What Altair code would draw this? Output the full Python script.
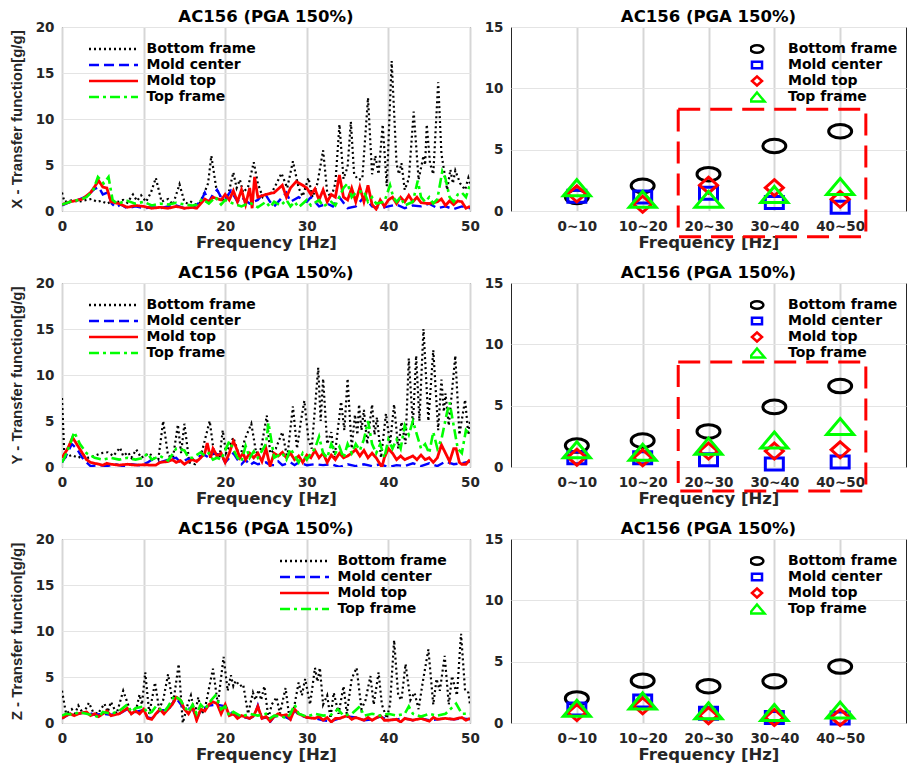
import json
import altair as alt
import pandas as pd

SERIES = ["Bottom frame", "Mold center", "Mold top", "Top frame"]
COLORS = ["#000000", "#0000ff", "#ff0000", "#00ff00"]
DASHES = [[2, 3], [10, 5], [1, 0], [10, 4, 3, 4]]
LINE_WIDTHS = [2.2, 2.4, 2.8, 2.6]
CATEGORIES = ["0~10", "10~20", "20~30", "30~40", "40~50"]
TITLE = "AC156 (PGA 150%)"
YTITLES = {"X": "X - Transfer function[g/g]", "Y": "Y - Transfer function[g/g]", "Z": "Z - Transfer function[g/g]"}
# marker outlines (ellipse, square, diamond, triangle) as drawn in the reference
SHAPES = [
    "M-1.15,0A1.15,0.68 0 1,0 1.15,0A1.15,0.68 0 1,0 -1.15,0Z",
    "M-0.9,-0.6H0.9V0.6H-0.9Z",
    "M0,-0.8L0.9,0L0,0.8L-0.9,0Z",
    "M0,-0.8L1.35,0.8L-1.35,0.8Z",
]

# ---------------- transfer-function spectra (frequency Hz, value g/g) ----------------
X_BOTTOM = [(0,2.0),(0.3,1.0),(1.2,1.15),(2.0,1.0),(3.0,1.2),(3.6,1.3),(4.3,1.0),(4.8,1.1),(5.5,0.8),(6.2,1.1),(6.9,1.0),(7.5,1.2),(8.0,0.9),(8.7,1.8),(9.2,1.1),(9.7,1.7),(10.3,1.0),(10.9,2.0),(11.5,3.6),(12.2,1.0),(12.6,1.2),(13.0,1.3),(13.6,0.7),(14.4,2.9),(15.0,1.0),(15.4,0.8),(15.8,1.0),(16.3,0.7),(16.9,0.9),(17.5,2.1),(17.9,3.0),(18.3,6.0),(18.9,2.5),(19.4,1.6),(19.9,1.0),(20.3,1.5),(21.0,4.2),(21.4,2.5),(21.8,3.4),(22.2,2.0),(22.8,2.6),(23.5,5.3),(24.0,3.0),(24.6,1.5),(25.0,1.8),(25.7,2.0),(26.3,3.0),(26.9,4.1),(27.6,2.5),(28.3,5.4),(29.0,2.5),(29.5,1.6),(30.2,3.6),(30.7,1.5),(31.3,3.0),(32.0,6.6),(32.5,2.0),(33.0,1.5),(33.5,3.0),(34.0,9.4),(34.5,3.5),(35.0,4.8),(35.4,9.7),(35.8,4.0),(36.3,3.4),(36.8,3.5),(37.5,12.3),(38.0,4.0),(38.4,6.0),(38.8,4.0),(39.3,9.4),(39.8,2.7),(40.4,16.3),(41.0,5.1),(41.3,4.0),(41.6,5.2),(42.0,2.3),(42.5,3.5),(43.1,10.8),(43.7,3.4),(44.3,6.0),(44.5,5.0),(44.7,9.4),(45.1,5.2),(45.5,4.0),(46.1,14.0),(46.5,6.2),(47.2,2.3),(47.6,4.5),(47.9,3.0),(48.2,4.4),(48.8,3.0),(49.4,2.3),(49.8,3.6),(50.0,3.0)]
X_CENTER = [(0,0.6),(1,1.0),(2,1.2),(3,1.6),(4,2.4),(4.5,2.6),(5,1.8),(5.6,2.0),(6.1,0.8),(6.6,0.4),(7.2,0.7),(8,0.3),(9,0.5),(10,0.3),(11,0.4),(12,0.3),(13,0.5),(14,0.6),(15,0.3),(16,0.4),(17,1.0),(17.5,2.0),(18,1.0),(18.5,1.8),(19,2.3),(19.5,1.5),(20,1.3),(20.7,2.2),(21.5,1.0),(22,1.5),(23,0.8),(24,1.2),(24.8,2.0),(25.5,1.0),(26,0.5),(27,1.5),(27.5,2.0),(28,1.0),(29,1.5),(30,1.0),(30.5,1.5),(31.5,0.5),(32.5,0.8),(33.2,0.5),(34,1.5),(35,0.3),(36,0.5),(37,1.5),(38,0.5),(39,0.3),(40,0.5),(41,0.7),(42,0.3),(43,0.6),(44,0.5),(45,0.8),(46,0.3),(47,0.5),(48,0.2),(49,0.5),(50,0.3)]
X_TOP = [(0,0.7),(1,1.0),(2.5,1.3),(3.5,2.0),(4.5,3.3),(5,2.6),(5.5,2.5),(6,1.0),(7,0.8),(8,0.4),(9,0.6),(10,0.5),(11,0.3),(12,0.4),(13,0.3),(14,0.5),(15,0.3),(16,0.4),(16.5,0.3),(17,0.8),(17.5,1.3),(18,1.0),(18.5,1.5),(19.5,1.2),(20,1.8),(20.5,1.2),(21,2.2),(21.5,1.0),(22,2.3),(22.5,0.7),(23,2.5),(23.3,0.3),(23.6,3.7),(24,1.5),(25,1.8),(26,2.0),(27,2.8),(27.5,1.5),(28,2.5),(28.7,3.2),(29.5,2.8),(30,2.5),(30.5,1.8),(31,2.4),(31.5,1.2),(32,2.3),(32.5,1.0),(33,1.8),(33.5,1.5),(34,3.9),(34.5,1.5),(35,1.2),(35.5,2.5),(36,1.0),(36.5,2.6),(37,1.0),(37.5,2.8),(38,0.7),(38.5,0.2),(39,1.2),(39.5,0.5),(40,1.2),(40.5,1.5),(41,0.8),(41.5,1.5),(42,1.0),(42.5,1.7),(43,1.0),(43.5,1.5),(44,0.9),(45,0.8),(46,1.0),(46.5,1.3),(47,0.6),(47.5,1.1),(48,0.7),(48.5,1.1),(49,1.0),(49.5,0.3),(50,0.5)]
X_FRAME = [(0,0.7),(1,1.0),(2,1.2),(3,1.5),(3.8,2.2),(4.4,3.7),(5.1,3.0),(5.7,3.7),(6.2,1.2),(6.8,0.8),(7.5,1.0),(8,1.1),(9,0.8),(10,1.0),(11,0.6),(12,0.8),(13,0.7),(14,0.9),(15,0.7),(16,0.6),(16.5,0.7),(17.2,1.3),(18,0.8),(18.8,1.5),(19.5,0.7),(20,1.2),(21,0.8),(22,0.5),(23,0.9),(24,0.4),(25,1.0),(25.5,0.4),(26,1.0),(26.8,0.6),(27.5,1.2),(28,0.5),(28.5,1.0),(29,0.4),(30,1.2),(30.5,0.6),(31.5,1.2),(32,0.5),(33,1.0),(33.5,0.6),(34.5,2.5),(35,3.0),(35.5,1.5),(36,2.0),(37,2.2),(37.5,1.0),(38,1.5),(38.5,0.8),(39.5,1.0),(40.2,2.8),(40.6,1.5),(41,1.0),(41.5,1.5),(42,0.6),(43,1.0),(43.6,3.3),(44,1.5),(44.5,1.0),(45,1.5),(45.5,0.8),(46,1.3),(46.6,4.3),(47,3.5),(47.5,1.5),(48,1.0),(48.5,1.8),(49,2.0),(49.5,1.5),(50,2.9)]

Y_BOTTOM = [(0,7.5),(0.3,1.0),(1.2,1.3),(2.0,1.0),(2.6,1.3),(3.2,1.0),(4.0,1.2),(4.8,1.5),(5.6,1.6),(6.3,1.2),(7.1,2.1),(7.5,1.2),(8.1,1.6),(8.5,1.0),(9.1,1.9),(9.7,1.0),(10.7,1.5),(11.2,1.0),(11.8,0.8),(12.4,5.0),(13.0,1.2),(13.6,1.0),(14.2,4.6),(14.6,1.5),(15.0,4.7),(15.6,0.5),(16.3,0.3),(17.1,1.5),(18.1,5.0),(18.7,1.0),(19.3,1.0),(19.7,4.0),(20.1,1.5),(21.0,3.2),(21.8,1.0),(22.4,3.0),(23.2,4.7),(23.8,1.5),(24.4,2.0),(25.1,5.6),(25.5,1.5),(26.2,2.0),(27.0,3.8),(27.6,1.0),(28.3,6.6),(28.8,2.0),(29.3,5.1),(29.7,7.2),(30.2,3.0),(30.6,2.0),(31.4,10.8),(31.7,5.0),(32.0,9.6),(32.5,2.5),(33.0,3.8),(33.4,1.0),(34.2,7.1),(34.6,4.0),(35.0,9.6),(35.5,2.0),(35.9,5.7),(36.2,3.5),(36.4,6.8),(36.7,4.0),(37.0,6.2),(37.4,2.5),(38.0,6.8),(38.3,3.5),(38.6,5.4),(39.1,1.0),(39.7,5.8),(40.2,2.5),(40.7,6.8),(41.2,2.0),(41.6,4.9),(42.1,2.5),(42.5,11.8),(43.0,4.5),(43.4,12.1),(43.8,5.0),(44.3,15.0),(44.9,5.0),(45.5,12.7),(46.1,4.0),(46.5,9.5),(46.8,6.0),(47.0,8.0),(47.4,4.5),(48.2,12.1),(48.7,3.5),(49.4,7.3),(49.8,3.5),(50.0,5.0)]
Y_CENTER = [(0,0.5),(0.5,1.2),(1.2,2.5),(1.8,2.0),(2.5,1.0),(3,0.5),(3.5,0.1),(4.5,0.2),(5.5,0.1),(6.5,0.3),(7.5,0.1),(8.5,0.3),(9.5,0.2),(10,0.3),(10.5,0.5),(11,0.8),(12,0.5),(13,0.8),(14,1.0),(14.5,0.5),(15.5,0.9),(16,0.8),(17,1.2),(17.5,1.3),(18,1.0),(18.5,1.5),(19.5,1.3),(20,0.5),(21,1.5),(21.5,0.8),(22,0.3),(22.5,0.8),(23,0.2),(23.5,0.5),(24,0.3),(25,0.5),(25.5,0.2),(26,0.2),(26.5,0.6),(27,0.2),(28,0.5),(28.5,0.2),(29,0.5),(30,0.2),(31,0.3),(32,0.2),(33,0.3),(34,0.0),(35,0.3),(36,0.1),(37,0.3),(38,0.1),(39,0.3),(40,0.0),(41,0.2),(42,0.1),(43,0.4),(44,0.1),(45,0.4),(46,0.1),(47,0.6),(48,0.3),(49,0.4),(50,0.6)]
Y_TOP = [(0,1.0),(0.7,2.0),(1.3,3.2),(1.8,2.5),(2.5,1.5),(3,0.8),(3.5,0.5),(4.5,0.3),(5,0.2),(5.5,0.4),(6,0.3),(7,0.2),(8,0.3),(9,0.2),(10,0.25),(11,0.2),(11.5,0.2),(12,0.5),(13,0.6),(13.5,0.8),(14,0.5),(14.5,0.7),(15,0.3),(15.5,0.6),(16,0.8),(16.5,0.6),(17,1.0),(17.5,1.5),(17.8,2.6),(18.2,1.0),(18.5,2.0),(19,1.2),(19.5,1.5),(20,0.5),(20.5,1.5),(21,2.8),(21.3,2.2),(21.8,1.0),(22.2,1.5),(22.5,0.8),(23,1.5),(23.5,1.0),(24,1.5),(24.5,0.6),(25,2.0),(25.5,0.1),(26,1.5),(26.5,1.2),(27,1.6),(27.5,1.0),(28,1.5),(28.5,0.8),(29,1.2),(29.5,0.5),(30,1.3),(30.5,1.0),(31,1.8),(31.5,1.0),(32,1.5),(32.5,0.5),(33,1.3),(33.5,0.8),(34,1.5),(34.5,1.0),(35,1.2),(35.5,1.5),(36,1.9),(36.5,1.2),(37,1.8),(37.5,1.0),(38,1.5),(38.5,1.0),(39.2,0.0),(39.5,1.0),(40,2.0),(40.5,1.5),(41,0.8),(41.5,1.2),(42,0.8),(42.5,1.0),(43,1.2),(43.5,0.8),(44,1.3),(44.5,0.8),(45,1.0),(45.5,0.5),(46,1.0),(46.5,2.4),(47,1.5),(47.5,0.6),(48,2.0),(48.3,2.0),(48.7,0.5),(49,0.3),(49.5,0.3),(50,0.8)]
Y_FRAME = [(0,0.5),(0.3,1.0),(1.0,2.5),(1.5,3.8),(2.2,2.5),(3,1.5),(4,1.0),(5,0.8),(6,1.0),(7,0.8),(8,1.0),(9,0.8),(10,1.0),(10.5,1.5),(11,0.8),(12,1.2),(13,0.7),(14,2.0),(15,1.8),(15.5,1.0),(16,1.0),(17,1.6),(17.5,1.2),(18,1.5),(18.5,0.8),(19,1.0),(19.5,0.8),(20.5,2.8),(21.5,1.0),(22,0.6),(22.5,2.3),(23,1.0),(23.5,1.7),(24,1.0),(25,2.5),(25.3,4.8),(26,1.0),(27,1.5),(27.5,0.8),(28,2.0),(29,0.5),(29.5,1.5),(30,0.8),(30.5,1.5),(31,2.0),(31.5,3.3),(32,1.5),(32.5,1.0),(33,2.5),(33.5,1.5),(34,2.2),(34.5,1.0),(35,2.5),(35.5,1.5),(36,2.5),(36.5,1.8),(37,3.0),(37.5,5.0),(38,2.5),(38.5,1.5),(39,2.5),(39.5,1.0),(40,3.0),(40.5,2.0),(41,3.0),(41.5,2.0),(42,4.5),(42.5,3.5),(43,5.0),(43.5,3.5),(44,2.0),(44.5,2.5),(45,1.5),(45.5,3.8),(46,2.0),(46.5,3.0),(47.2,6.0),(47.5,7.0),(48,4.5),(48.5,2.0),(49,1.5),(49.5,4.0),(50,3.5)]

Z_BOTTOM = [(0,3.5),(0.5,1.0),(1.2,1.5),(1.6,1.0),(2.0,1.9),(2.6,1.0),(3.3,2.2),(3.8,1.2),(4.4,1.0),(5.2,2.1),(5.6,1.2),(6.0,2.3),(6.7,1.0),(7.5,3.5),(8.1,2.0),(8.5,1.0),(9.1,1.5),(9.5,3.1),(9.8,2.0),(10.2,5.5),(10.7,1.0),(11.4,4.4),(11.9,1.5),(12.4,2.5),(13.0,5.3),(13.6,2.0),(14.3,6.4),(14.8,0.0),(15.4,2.0),(15.8,3.0),(16.3,1.0),(16.7,2.8),(17.1,1.0),(17.5,1.5),(18.5,5.9),(19.1,2.0),(19.8,7.2),(20.3,3.5),(20.7,5.2),(21.0,4.0),(21.3,4.6),(21.8,4.0),(22.2,4.2),(22.8,1.0),(23.4,3.3),(23.7,2.5),(24.1,3.6),(24.4,2.5),(24.8,4.0),(25.3,0.5),(25.7,2.0),(26.3,2.8),(26.7,1.0),(27.4,3.8),(27.8,1.0),(28.4,1.5),(29.0,4.4),(29.4,3.0),(29.8,4.8),(30.4,2.0),(31.0,6.0),(31.3,4.5),(31.6,6.0),(32.0,2.0),(32.5,3.0),(32.9,0.5),(33.3,3.3),(33.9,1.0),(34.5,4.0),(34.9,1.0),(35.5,4.8),(36.1,6.0),(36.7,1.5),(37.2,2.5),(37.8,5.1),(38.2,2.0),(38.8,5.5),(39.2,2.0),(39.8,0.5),(40.2,2.0),(40.7,9.0),(41.2,3.0),(41.6,2.5),(42.1,6.4),(42.7,2.5),(43.2,3.3),(43.7,1.5),(44.2,4.4),(44.9,8.0),(45.5,2.0),(45.9,4.8),(46.3,3.5),(46.9,7.3),(47.4,2.0),(47.8,5.1),(48.4,3.0),(48.9,9.7),(49.4,3.5),(49.8,3.3),(50.0,2.0)]
Z_CENTER = [(0,0.5),(1,1.0),(2,1.0),(3,1.2),(4,0.9),(5,1.0),(6,0.9),(7,1.0),(8,1.5),(9,1.2),(10,1.4),(10.5,0.6),(11,0.5),(12,1.4),(13,1.4),(14,2.7),(15,1.5),(16,1.6),(16.5,0.4),(17,1.4),(18,1.9),(19,2.0),(20,1.8),(21,0.9),(22,0.7),(23,0.5),(23.6,0.8),(24,1.9),(24.5,0.5),(25,0.6),(25.5,0.1),(26,0.7),(27,0.8),(28,0.4),(28.5,1.4),(29,0.9),(30,0.6),(31,0.5),(32,0.3),(33,0.2),(34,0.5),(35,0.7),(36,0.6),(37,0.3),(38,0.4),(39,0.7),(40,0.3),(41,0.4),(42,0.5),(43,0.3),(44,0.5),(45,0.3),(46,0.4),(47,0.5),(48,0.4),(49,0.5),(50,0.4)]
Z_TOP = [(0,0.5),(0.5,0.8),(1,1.0),(1.5,0.8),(2,1.0),(3,1.2),(3.5,0.8),(4,1.0),(4.5,0.7),(5,1.0),(5.5,1.3),(6,0.8),(7,1.0),(8,1.6),(8.5,1.0),(9,1.3),(9.5,1.0),(10,1.5),(10.5,0.5),(11,0.4),(11.5,1.0),(12,1.5),(12.5,1.0),(13,1.5),(13.5,2.0),(14,2.8),(14.5,2.5),(15,1.5),(15.5,1.0),(16,1.8),(16.5,0.3),(17,1.5),(17.5,1.3),(18,2.0),(18.5,2.3),(19,2.1),(19.5,1.0),(20,2.0),(20.5,0.8),(21,1.0),(21.5,0.5),(22,0.8),(23,0.5),(23.5,0.8),(24,1.8),(24.5,0.5),(25,0.7),(25.5,0.2),(26,0.7),(26.5,1.0),(27,0.8),(27.5,0.9),(28,0.4),(28.5,1.5),(29,1.0),(29.5,0.8),(30,0.6),(31,0.5),(31.5,0.7),(32,0.3),(32.5,0.6),(33,0.1),(33.5,0.5),(34,0.5),(35,0.8),(35.5,0.4),(36,0.6),(37,0.3),(37.5,0.6),(38,0.3),(39,0.8),(39.5,0.3),(40,0.3),(41,0.4),(41.5,0.1),(42,0.5),(43,0.3),(44,0.5),(45,0.2),(45.5,0.6),(46,0.4),(47,0.5),(48,0.4),(49,0.6),(49.5,0.3),(50,0.5)]
Z_FRAME = [(0,0.8),(0.5,1.0),(1.5,0.9),(2,1.2),(3,1.0),(4,0.8),(4.5,0.6),(5,1.2),(6,1.0),(7,1.3),(8,2.0),(8.5,1.2),(9,1.6),(10,1.8),(10.5,1.0),(11,1.2),(11.5,1.8),(12.5,1.2),(13,1.8),(13.8,3.0),(14.5,2.5),(15,1.8),(15.5,1.2),(16,2.0),(16.5,1.0),(17,2.0),(17.5,1.5),(18.3,2.5),(18.8,3.0),(19.5,1.5),(20,1.8),(20.5,0.8),(21,1.2),(22,0.7),(23,1.0),(24,0.8),(25,1.0),(25.5,0.5),(26,0.8),(27,0.7),(27.5,0.5),(28,1.0),(28.5,2.0),(29,1.0),(30,0.7),(31,1.0),(32,0.8),(33,0.9),(33.8,1.5),(34.5,0.8),(35.5,1.0),(36.5,1.8),(37,0.8),(38,1.0),(39,0.8),(40,1.0),(41,0.8),(42,1.0),(42.5,1.8),(43,1.0),(44,0.7),(45,1.0),(46,0.8),(47,1.0),(48.3,2.1),(49,1.0),(50,1.0)]

# ---------------- band maxima (one value per frequency band) ----------------
X_BANDS = {"Bottom frame": [1.15, 2.05, 3.0, 5.3, 6.5], "Mold center": [1.2, 1.15, 1.45, 0.7, 0.3],
           "Mold top": [1.4, 0.55, 2.1, 1.9, 0.95], "Top frame": [1.9, 0.95, 0.95, 1.35, 2.0]}
Y_BANDS = {"Bottom frame": [1.75, 2.15, 2.9, 4.9, 6.6], "Mold center": [0.75, 0.75, 0.6, 0.25, 0.4],
           "Mold top": [0.8, 0.75, 1.3, 1.3, 1.4], "Top frame": [1.4, 1.2, 1.7, 2.2, 3.3]}
Z_BANDS = {"Bottom frame": [2.0, 3.45, 3.0, 3.4, 4.6], "Mold center": [1.15, 1.8, 0.8, 0.45, 0.4],
           "Mold top": [0.85, 1.4, 0.6, 0.45, 0.45], "Top frame": [1.2, 1.8, 1.0, 0.85, 1.05]}

# dashed highlight boxes (band-axis units, y units)
BOX_X = [2.54, 5.39]
BOX_Y_X = [-2.1, 8.3]
BOX_Y_Y = [-1.95, 8.55]

SPECTRA = {
    "X": [X_BOTTOM, X_CENTER, X_TOP, X_FRAME],
    "Y": [Y_BOTTOM, Y_CENTER, Y_TOP, Y_FRAME],
    "Z": [Z_BOTTOM, Z_CENTER, Z_TOP, Z_FRAME],
}
BANDS = {"X": X_BANDS, "Y": Y_BANDS, "Z": Z_BANDS}

LW, RW, H = 408, 395, 184
TICK_FONT = "DejaVu Sans"
DARK = "#262626"

color_scale = alt.Scale(domain=SERIES, range=COLORS)
dash_scale = alt.Scale(domain=SERIES, range=DASHES)
shape_scale = alt.Scale(domain=SERIES, range=SHAPES)
LABEL_EXPR = json.dumps(CATEGORIES) + "[datum.value - 1]"


def panel_title():
    return alt.TitleParams(TITLE, font=TICK_FONT, fontSize=16.5, fontWeight="bold",
                           color="#000000", offset=-5, anchor="middle")


def line_panel(key, leg_x):
    legend = alt.Legend(title=None, orient="none", legendX=leg_x, legendY=15,
                        symbolType="M-5,0H5", symbolSize=96, symbolStrokeWidth=2.5,
                        labelOffset=26, rowPadding=2, padding=0,
                        labelFont=TICK_FONT, labelFontSize=14, labelFontWeight="bold",
                        labelColor="#000000")
    layers = []
    for s, pts, w in zip(SERIES, SPECTRA[key], LINE_WIDTHS):
        df = pd.DataFrame({"freq": [p[0] for p in pts], "value": [p[1] for p in pts], "series": s})
        layers.append(
            alt.Chart(df).mark_line(strokeWidth=w, clip=True).encode(
                x=alt.X("freq:Q", scale=alt.Scale(domain=[0, 50], nice=False),
                        axis=alt.Axis(values=[0, 10, 20, 30, 40, 50], title="Frequency [Hz]")),
                y=alt.Y("value:Q", scale=alt.Scale(domain=[0, 20], nice=False),
                        axis=alt.Axis(values=[0, 5, 10, 15, 20], title=YTITLES[key],
                                      titleFont="Liberation Sans", titleFontSize=15,
                                      titleFontWeight="bold", titlePadding=11)),
                color=alt.Color("series:N", scale=color_scale, legend=legend),
                strokeDash=alt.StrokeDash("series:N", scale=dash_scale, legend=legend),
            )
        )
    return alt.layer(*layers).properties(width=LW, height=H, title=panel_title())


def point_panel(key, box_y):
    rows = []
    for s in SERIES:
        for i, v in enumerate(BANDS[key][s]):
            rows.append({"band": i + 1, "value": v, "series": s})
    df = pd.DataFrame(rows)
    legend = alt.Legend(title=None, orient="none", legendX=239, legendY=15,
                        symbolSize=125, symbolStrokeWidth=2.5, labelOffset=24,
                        clipHeight=14, rowPadding=2, padding=0, labelFont=TICK_FONT,
                        labelFontSize=14, labelFontWeight="bold", labelColor="#000000")
    x = alt.X("band:Q", scale=alt.Scale(domain=[0, 6], nice=False, zero=False),
              axis=alt.Axis(values=[1, 2, 3, 4, 5], labelExpr=LABEL_EXPR, title="Frequency [Hz]"))
    y = alt.Y("value:Q", scale=alt.Scale(domain=[0, 15], nice=False),
              axis=alt.Axis(values=[0, 5, 10, 15], title=None))
    pts = alt.Chart(df).mark_point(filled=False, size=400, strokeWidth=3, opacity=1).encode(
        x=x, y=y,
        color=alt.Color("series:N", scale=color_scale, legend=legend),
        shape=alt.Shape("series:N", scale=shape_scale, legend=legend),
    )
    layers = [pts]
    if box_y is not None:
        bdf = pd.DataFrame({"x0": [BOX_X[0]], "x1": [BOX_X[1]], "y0": [box_y[0]], "y1": [box_y[1]]})
        rect = alt.Chart(bdf).mark_rect(fillOpacity=0, stroke="#ff0000", strokeWidth=3,
                                        strokeDash=[22, 10]).encode(
            x=alt.X("x0:Q", title="Frequency [Hz]"), x2="x1:Q",
            y=alt.Y("y0:Q", title=None), y2="y1:Q")
        layers.append(rect)
    return alt.layer(*layers).properties(width=RW, height=H, title=panel_title())


charts = [
    line_panel("X", 44.5), point_panel("X", BOX_Y_X),
    line_panel("Y", 44.5), point_panel("Y", BOX_Y_Y),
    line_panel("Z", 235.5), point_panel("Z", None),
]

chart = (
    alt.concat(*charts, columns=2, spacing={"row": 72, "column": 41}, bounds="flush")
    .resolve_scale(color="independent", shape="independent", strokeDash="independent")
    .properties(padding=0)
    .configure_axis(domain=False, ticks=False, labelFont=TICK_FONT, labelFontWeight="bold",
                    labelFontSize=13.5, labelColor=DARK, labelPadding=8, labelFlush=False,
                    titleFont=TICK_FONT, titleFontWeight="bold", titleFontSize=16.5,
                    titleColor=DARK)
    .configure_axisX(gridWidth=2, gridColor="#d6d6d6", titlePadding=2)
    .configure_axisY(gridWidth=1, gridColor="#e4e4e4")
    .configure_view(stroke=DARK, strokeWidth=1)
)

chart.save("out.html", embed_options={"renderer": "svg", "actions": False})
